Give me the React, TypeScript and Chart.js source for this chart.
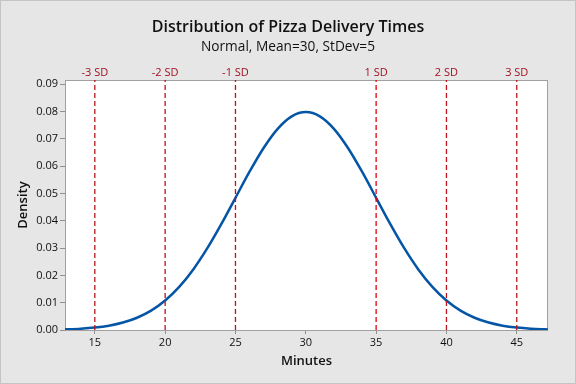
import React, { useEffect, useRef } from "react";
import { Chart, registerables } from "chart.js";

Chart.register(...registerables);

const minutes = [
  12.88, 13, 14, 15, 16, 17, 18, 19, 20, 21, 22, 23, 24, 25, 26, 27, 28, 29, 30,
  31, 32, 33, 34, 35, 36, 37, 38, 39, 40, 41, 42, 43, 44, 45, 46, 47, 47.22,
];
const density = [
  0.00023, 0.00025, 0.00048, 0.00089, 0.00158, 0.00272, 0.00448, 0.00709, 0.0108,
  0.01579, 0.02218, 0.02995, 0.03884, 0.04839, 0.05794, 0.06664, 0.07365, 0.07821,
  0.07979, 0.07821, 0.07365, 0.06664, 0.05794, 0.04839, 0.03884, 0.02995, 0.02218,
  0.01579, 0.0108, 0.00709, 0.00448, 0.00272, 0.00158, 0.00089, 0.00048, 0.00025,
  0.00021,
];
const sdPositions = [15, 20, 25, 35, 40, 45];
const sdLabels = ["-3 SD", "-2 SD", "-1 SD", "1 SD", "2 SD", "3 SD"];
const xTicks = [15, 20, 25, 30, 35, 40, 45];
const yTicks = [0, 0.01, 0.02, 0.03, 0.04, 0.05, 0.06, 0.07, 0.08, 0.09];

const X_MIN = 12.88;
const X_MAX = 47.22;
const Y_MAX = 0.0915;
const FONT = "'Open Sans', 'Noto Sans', sans-serif";

const bgPlugin = {
  id: "bgPlugin",
  beforeDraw(chart: any) {
    const { ctx, width, height, chartArea } = chart;
    ctx.save();
    ctx.fillStyle = "#e6e6e6";
    ctx.fillRect(0, 0, width, height);
    ctx.strokeStyle = "#c4c4c4";
    ctx.lineWidth = 1;
    ctx.strokeRect(0.5, 0.5, width - 1, height - 1);
    ctx.fillStyle = "#ffffff";
    ctx.fillRect(chartArea.left, chartArea.top, chartArea.right - chartArea.left, chartArea.bottom - chartArea.top);
    ctx.restore();
  },
  beforeDatasetsDraw(chart: any) {
    const { ctx, chartArea } = chart;
    ctx.save();
    ctx.strokeStyle = "#a0a0a0";
    ctx.lineWidth = 1;
    ctx.strokeRect(
      Math.round(chartArea.left) + 0.5,
      Math.round(chartArea.top) + 0.5,
      Math.round(chartArea.right - chartArea.left) - 1,
      Math.round(chartArea.bottom - chartArea.top)
    );
    ctx.restore();
  },
};

export default function App() {
  const ref = useRef<HTMLCanvasElement | null>(null);

  useEffect(() => {
    document.body.style.margin = "0";
    if (!ref.current) return;
    Chart.defaults.font.family = FONT;

    const sdDatasets = sdPositions.map((p, i) => ({
      label: sdLabels[i],
      data: [
        { x: p, y: 0 },
        { x: p, y: Y_MAX },
      ],
      borderColor: Math.abs(p - 30) === 5 ? "#e3000f" : "#b8161e",
      borderWidth: 1.3,
      borderDash: [5, 3],
      pointRadius: 0,
      fill: false,
      tension: 0,
    }));

    const chart = new Chart(ref.current, {
      type: "line",
      data: {
        datasets: [
          ...sdDatasets,
          {
            label: "Density",
            data: minutes.map((m, i) => ({ x: m, y: density[i] })),
            borderColor: "#0455a5",
            borderWidth: 2.5,
            pointRadius: 0,
            fill: false,
            cubicInterpolationMode: "monotone",
          },
        ],
      },
      options: {
        animation: false,
        responsive: false,
        events: [],
        layout: { padding: { left: 0, right: 0, top: 0, bottom: 0 } },
        plugins: {
          legend: { display: false },
          tooltip: { enabled: false },
          title: {
            display: true,
            text: "Distribution of Pizza Delivery Times",
            color: "#111",
            font: { size: 16, weight: "600", family: FONT },
            padding: { top: 18, bottom: 2 },
          },
          subtitle: {
            display: true,
            text: "Normal, Mean=30, StDev=5",
            color: "#111",
            font: { size: 13.7, weight: "400", family: FONT },
            padding: { top: 0, bottom: 0 },
          },
        },
        scales: {
          x: {
            type: "linear",
            position: "bottom",
            min: X_MIN,
            max: X_MAX,
            afterBuildTicks: (s: any) => {
              s.ticks = xTicks.map((v) => ({ value: v }));
            },
            afterFit: (s: any) => {
              s.height = 54;
            },
            grid: { display: true, drawOnChartArea: false, drawTicks: true, tickLength: 4, color: "#909090" },
            border: { display: false },
            ticks: { color: "#111", font: { size: 11 }, padding: 2, maxRotation: 0, autoSkip: false },
            title: {
              display: true,
              text: "Minutes",
              color: "#111",
              font: { size: 13, weight: "600" },
              padding: { top: 0, bottom: 15 },
            },
          },
          x2: {
            type: "linear",
            position: "top",
            min: X_MIN,
            max: X_MAX,
            afterBuildTicks: (s: any) => {
              s.ticks = sdPositions.map((v) => ({ value: v }));
            },
            afterFit: (s: any) => {
              s.height = 24.4;
            },
            grid: { display: false, drawTicks: false },
            border: { display: false },
            ticks: {
              color: "#a01020",
              font: { size: 11 },
              padding: 1,
              maxRotation: 0,
              autoSkip: false,
              callback: (v: any) => {
                const i = sdPositions.indexOf(Number(v));
                return i >= 0 ? sdLabels[i] : "";
              },
            },
          },
          y: {
            type: "linear",
            position: "left",
            min: 0,
            max: Y_MAX,
            afterBuildTicks: (s: any) => {
              s.ticks = yTicks.map((v) => ({ value: v }));
            },
            afterFit: (s: any) => {
              s.width = 65;
            },
            grid: { display: true, drawOnChartArea: false, drawTicks: true, tickLength: 5, color: "#909090" },
            border: { display: false },
            ticks: {
              color: "#111",
              font: { size: 11 },
              padding: 2,
              autoSkip: false,
              callback: (v: any) => Number(v).toFixed(2),
            },
            title: {
              display: true,
              text: "Density",
              color: "#111",
              font: { size: 13, weight: "600" },
              padding: { top: 15, bottom: 0 },
            },
          },
          yRight: {
            type: "linear",
            position: "right",
            min: 0,
            max: Y_MAX,
            afterBuildTicks: (s: any) => {
              s.ticks = [];
            },
            afterFit: (s: any) => {
              s.width = 28;
            },
            grid: { display: false, drawTicks: false },
            border: { display: false },
            ticks: { display: false },
          },
        },
      },
      plugins: [bgPlugin],
    });

    return () => chart.destroy();
  }, []);

  return (
    <div style={{ width: 576, height: 384 }}>
      <canvas ref={ref} width={576} height={384} style={{ display: "block" }} />
    </div>
  );
}
